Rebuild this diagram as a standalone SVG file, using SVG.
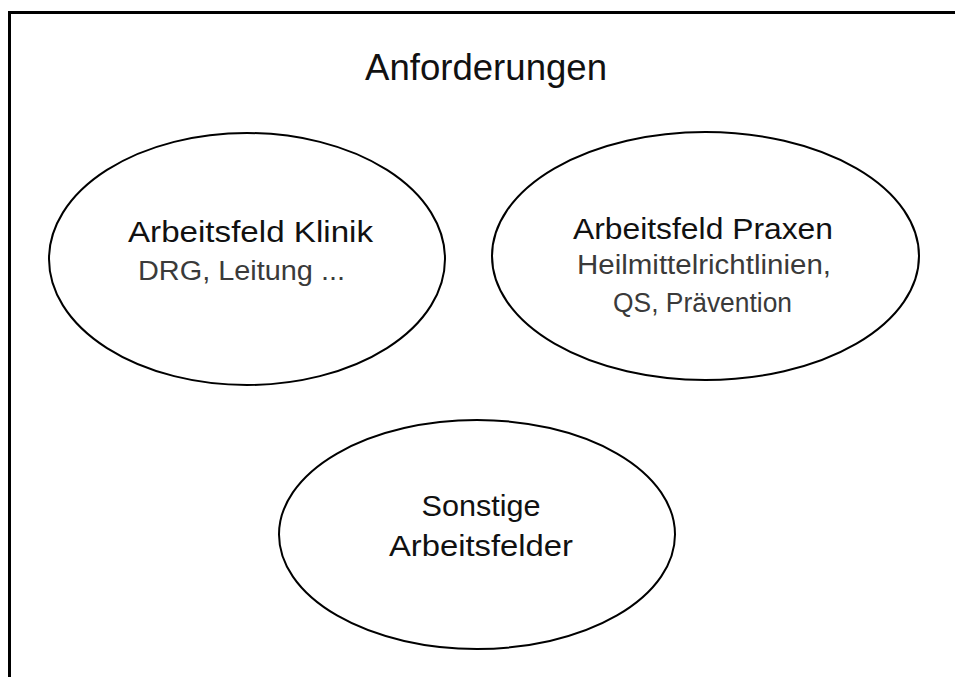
<svg xmlns="http://www.w3.org/2000/svg" width="955" height="677" viewBox="0 0 955 677">
  <style>
    .node { fill: #ffffff; stroke: #000000; stroke-width: 2; }
    text { font-family: "Liberation Sans", Arial, sans-serif; text-anchor: middle; }
    .title { font-size: 36px; fill: #111111; }
    .head { font-size: 30px; fill: #111111; }
    .sub { font-size: 27px; fill: #3a3a3a; }
  </style>
  <rect width="955" height="677" fill="#ffffff"/>
  <path d="M 9.5 690 V 12.5 H 970" fill="none" stroke="#000000" stroke-width="3"/>
  <text class="title" x="486" y="80" textLength="242" lengthAdjust="spacingAndGlyphs">Anforderungen</text>
  <g id="connectors"></g>
  <g id="klinik">
    <ellipse class="node" cx="247" cy="259" rx="198" ry="126"/>
    <text class="head" x="250.5" y="242" textLength="245" lengthAdjust="spacingAndGlyphs">Arbeitsfeld Klinik</text>
    <text class="sub" x="241.5" y="280" textLength="207" lengthAdjust="spacingAndGlyphs">DRG, Leitung ...</text>
  </g>
  <g id="praxen">
    <ellipse class="node" cx="705.5" cy="256" rx="213.5" ry="124"/>
    <text class="head" x="703" y="239" textLength="260" lengthAdjust="spacingAndGlyphs">Arbeitsfeld Praxen</text>
    <text class="sub" x="704" y="274" textLength="254" lengthAdjust="spacingAndGlyphs">Heilmittelrichtlinien,</text>
    <text class="sub" x="702.5" y="312" textLength="179" lengthAdjust="spacingAndGlyphs">QS, Prävention</text>
  </g>
  <g id="sonstige">
    <ellipse class="node" cx="477" cy="534.5" rx="198" ry="114.5"/>
    <text class="head" x="481" y="516" textLength="119" lengthAdjust="spacingAndGlyphs">Sonstige</text>
    <text class="head" x="481" y="556" textLength="184" lengthAdjust="spacingAndGlyphs">Arbeitsfelder</text>
  </g>
</svg>
